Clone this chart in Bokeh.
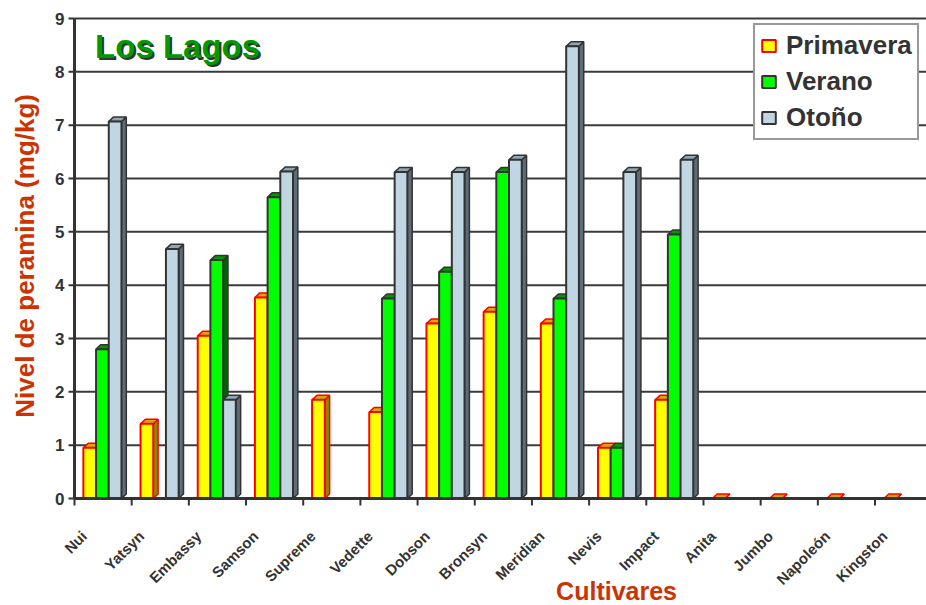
import math
from bokeh.plotting import figure
from bokeh.models import Range1d, Label, Legend, LegendItem, ColumnDataSource
from bokeh.core.properties import value
from bokeh.embed import file_html
from bokeh.resources import INLINE

cultivares = ["Nui", "Yatsyn", "Embassy", "Samson", "Supreme", "Vedette", "Dobson",
              "Bronsyn", "Meridian", "Nevis", "Impact", "Anita", "Jumbo", "Napoleón", "Kingston"]
primavera = [0.95, 1.40, 3.05, 3.77, 1.85, 1.62, 3.28, 3.50, 3.28, 0.95, 1.85, 0, 0, 0, 0]
verano    = [2.80, 0.00, 4.47, 5.65, 0.00, 3.75, 4.25, 6.12, 3.75, 0.95, 4.95, 0, 0, 0, 0]
otono     = [7.07, 4.68, 1.85, 6.13, 0.00, 6.12, 6.12, 6.35, 8.48, 6.12, 6.35, 0, 0, 0, 0]
series_names = ["Primavera", "Verano", "Otoño"]
y_ticks = [0, 1, 2, 3, 4, 5, 6, 7, 8, 9]
y_title = "Nivel de peramina (mg/kg)"
x_title = "Cultivares"
chart_title = "Los Lagos"

# ---- styles / geometry (pixels) ----
W_PX, H_PX = 926, 605
LEFT_PX, TOP_PX, BASE_PX = 74, 18, 498          # plotting box of the original
CW = 57.18                                        # px per category
U = (BASE_PX - TOP_PX) / 9.0                      # px per mg/kg
front_colors = ["#FFFF00", "#00FF00", "#C0D7E3"]
top_colors = ["#D9A800", "#009900", "#8FA6B3"]
side_colors = ["#8A8A00", "#006400", "#5C6C78"]
line_colors = ["#FF0000", "#333333", "#333333"]
START, W, DX, DY = 0.155, 0.222, 0.085, 0.085
FONT = "'Liberation Sans', Arial, sans-serif"
DARK = "#333333"
ORANGE = "#CC3300"

x0 = -LEFT_PX / CW
x1 = (W_PX - LEFT_PX) / CW
y1 = BASE_PX / U
y0 = -(H_PX - BASE_PX) / U

p = figure(width=W_PX, height=H_PX, output_backend="svg", toolbar_location=None,
           x_range=Range1d(x0, x1), y_range=Range1d(y0, y1),
           x_axis_location=None, y_axis_location=None, min_border=0)
p.outline_line_color = None
p.background_fill_color = "white"
p.border_fill_color = "white"
p.grid.visible = False

n = len(cultivares)

# horizontal gridlines
p.segment(x0=[0] * len(y_ticks), x1=[x1] * len(y_ticks), y0=y_ticks, y1=y_ticks,
          line_color="#3A3A3A", line_width=2)

# 3D-looking bars
legend_items = []
for k, vals in enumerate([primavera, verano, otono]):
    left = [i + START + k * W for i in range(n)]
    right = [l + W for l in left]
    keep = [j for j, v in enumerate(vals) if v > 0 or k == 0]
    side_xs = [[right[j], right[j] + DX, right[j] + DX, right[j]] for j in keep]
    side_ys = [[0, DY, vals[j] + DY, vals[j]] for j in keep]
    top_xs = [[left[j], left[j] + DX, right[j] + DX, right[j]] for j in keep]
    top_ys = [[vals[j], vals[j] + DY, vals[j] + DY, vals[j]] for j in keep]
    p.patches(side_xs, side_ys, fill_color=side_colors[k], line_color=line_colors[k], line_width=1.5)
    p.patches(top_xs, top_ys, fill_color=top_colors[k], line_color=line_colors[k], line_width=1.5)
    src = ColumnDataSource(dict(left=[left[j] for j in keep], right=[right[j] for j in keep],
                                top=[vals[j] for j in keep], bottom=[0] * len(keep)))
    r = p.quad(left="left", right="right", top="top", bottom="bottom", source=src,
               fill_color=front_colors[k], line_color=line_colors[k], line_width=2)
    legend_items.append(LegendItem(label=series_names[k], renderers=[r]))

# axes lines
p.segment(x0=[0], x1=[0], y0=[0], y1=[max(y_ticks)], line_color=DARK, line_width=3)
p.segment(x0=[0], x1=[x1], y0=[0], y1=[0], line_color=DARK, line_width=3)

# y ticks + labels
p.segment(x0=[-6 / CW] * len(y_ticks), x1=[0] * len(y_ticks), y0=y_ticks, y1=y_ticks,
          line_color=DARK, line_width=2)
p.text(x=[0] * len(y_ticks), y=y_ticks, text=[str(t) for t in y_ticks], x_offset=-10,
       text_font=value(FONT), text_font_style="bold", text_font_size="17px",
       text_color=DARK, text_align="right", text_baseline="middle")

# x ticks at category boundaries + rotated labels
p.segment(x0=list(range(n)), x1=list(range(n)), y0=[0] * n, y1=[-7 / U] * n,
          line_color=DARK, line_width=2)
p.text(x=[i + 0.5 for i in range(n)], y=[0] * n, text=cultivares, angle=math.pi / 4,
       x_offset=-19, y_offset=35,
       text_font=value(FONT), text_font_style="bold", text_font_size="15px",
       text_color=DARK, text_align="right", text_baseline="middle")

# axis titles
p.text(x=[-50 / CW], y=[4.55], text=[y_title], angle=math.pi / 2,
       text_font=value(FONT), text_font_style="bold", text_font_size="26px",
       text_color=ORANGE, text_align="center", text_baseline="middle")
p.text(x=[9.48], y=[-(590 - BASE_PX) / U], text=[x_title],
       text_font=value(FONT), text_font_style="bold", text_font_size="25px",
       text_color=ORANGE, text_align="center", text_baseline="middle")

# legend
legend = Legend(items=legend_items, location=(753, H_PX - 140))
legend.margin = 0
legend.padding = 5
legend.spacing = 5
legend.label_height = 30
legend.glyph_height = 15
legend.glyph_width = 17
legend.label_standoff = 9
legend.label_text_font = FONT
legend.label_text_font_style = "bold"
legend.label_text_font_size = "26px"
legend.label_text_color = DARK
legend.border_line_color = DARK
legend.border_line_width = 2
legend.background_fill_color = "white"
legend.background_fill_alpha = 1.0
p.add_layout(legend)

# title "Los Lagos" with shadow
for dx, dy, col in [(2, -2, DARK), (0, 0, "#009900")]:
    p.add_layout(Label(x=0.36, y=8.48, x_offset=dx, y_offset=dy, text=chart_title,
                       text_font=FONT, text_font_style="bold",
                       text_font_size="33px", text_color=col, text_baseline="alphabetic",
                       text_align="left"))

open("out.html", "w").write(file_html(p, INLINE))
